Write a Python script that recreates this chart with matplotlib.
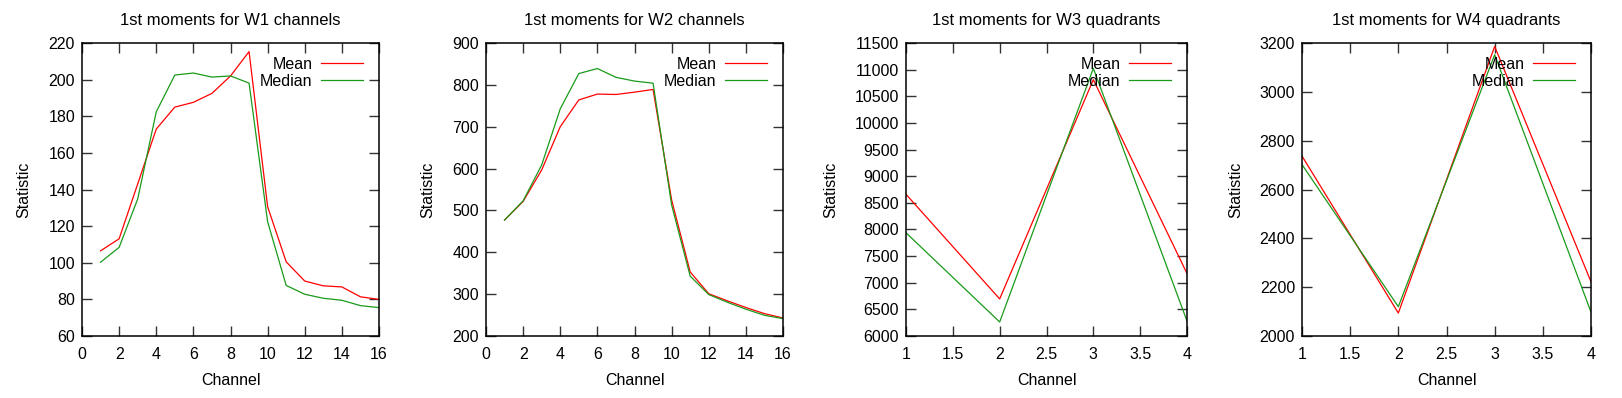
import matplotlib
matplotlib.use("Agg")
import matplotlib.pyplot as plt
from matplotlib.ticker import MultipleLocator, FormatStrFormatter

plt.rcParams['font.family'] = ['Liberation Sans', 'DejaVu Sans']

channels16 = list(range(1, 17))
quadrants = [1, 2, 3, 4]

w1_mean = [106.5, 113.1, 143, 173, 185, 187.6, 192.5, 202, 215.3, 130.6, 100.5, 90, 87.4, 86.8, 81.4, 80]
w1_median = [100.3, 108.4, 134.8, 182.4, 202.5, 203.6, 201.4, 202, 198.1, 122.4, 87.6, 82.8, 80.6, 79.5, 76.6, 75.5]

w2_mean = [477, 521.6, 596.6, 700, 764, 778, 777, 782.6, 789, 525, 353, 301, 284, 268, 253.5, 243]
w2_median = [477, 523, 608.6, 742.7, 827, 839, 818, 809, 804, 513, 343, 299, 280.6, 264, 249.5, 241.5]

w3_mean = [8660, 6696, 10812, 7173]
w3_median = [7938, 6263, 11025, 6282]

w4_mean = [2737, 2094, 3186, 2222]
w4_median = [2702, 2120, 3152, 2098]

titles = ["1st moments for W1 channels", "1st moments for W2 channels",
          "1st moments for W3 quadrants", "1st moments for W4 quadrants"]

W, H = 1622, 398
fig = plt.figure(figsize=(W / 100, H / 100), dpi=100)

boxes = [(82, 379), (486, 783), (906, 1187), (1302, 1591)]
top_px, bot_px = 43, 336

panels = [
    (channels16, w1_mean, w1_median, (0, 16), 2, (60, 220), 20),
    (channels16, w2_mean, w2_median, (0, 16), 2, (200, 900), 100),
    (quadrants, w3_mean, w3_median, (1, 4), 0.5, (6000, 11500), 500),
    (quadrants, w4_mean, w4_median, (1, 4), 0.5, (2000, 3200), 200),
]

red = '#ff0000'
green = '#1a9a1a'

for (l, r), title, (x, m, md, xl, xs, yl, ys) in zip(boxes, titles, panels):
    wpx = r - l
    hpx = bot_px - top_px
    ax = fig.add_axes([l / W, 1 - bot_px / H, wpx / W, hpx / H])
    ax.plot(x, m, color=red, lw=0.9, label='Mean')
    ax.plot(x, md, color=green, lw=0.9, label='Median')
    ax.set_xlim(*xl)
    ax.set_ylim(*yl)
    ax.xaxis.set_major_locator(MultipleLocator(xs))
    ax.yaxis.set_major_locator(MultipleLocator(ys))
    ax.xaxis.set_major_formatter(FormatStrFormatter('%g'))
    ax.tick_params(direction='in', top=True, right=True, length=7, width=1,
                   labelsize=11.5, color='#333333')
    ax.tick_params(axis='x', pad=8)
    ax.tick_params(axis='y', pad=5)
    for s in ax.spines.values():
        s.set_linewidth(1.1)
    ax.set_title(title, fontsize=12, pad=13)
    ax.set_xlabel('Channel', fontsize=11.5, labelpad=8)
    ax.set_ylabel('Statistic', fontsize=11.5, labelpad=12)
    ax.legend(loc='upper right', frameon=False, markerfirst=False, fontsize=11.5,
              handlelength=2.6, handletextpad=0.56, labelspacing=0.1,
              borderaxespad=0, borderpad=0,
              bbox_to_anchor=(1 - 16 / wpx, 1 - 14 / hpx))

fig.savefig('out.png', dpi=100)
